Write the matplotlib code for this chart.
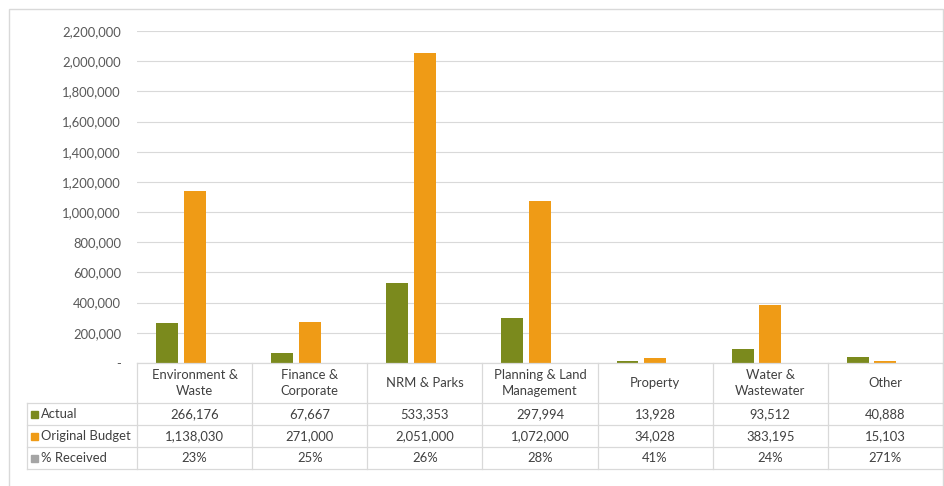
import matplotlib.pyplot as plt
from matplotlib.patches import Rectangle
from matplotlib.lines import Line2D

plt.rcParams['font.family'] = ['Lato', 'DejaVu Sans']

categories = ["Environment &\nWaste", "Finance &\nCorporate", "NRM & Parks",
              "Planning & Land\nManagement", "Property", "Water &\nWastewater", "Other"]
actual = [266176, 67667, 533353, 297994, 13928, 93512, 40888]
budget = [1138030, 271000, 2051000, 1072000, 34028, 383195, 15103]
received = [0.23, 0.25, 0.26, 0.28, 0.41, 0.24, 2.71]
series_names = ["Actual", "Original Budget", "% Received"]
colors = ["#7b8a1d", "#ef9b16", "#a5a5a5"]
yticks = list(range(0, 2200001, 200000))

W, H = 945, 486
fig = plt.figure(figsize=(W / 100, H / 100), dpi=100)
fs = 9.4

def fx(px):
    return px / W

def fy(py):
    return 1 - py / H

# plot area in pixel units
left, right, top, base = 137, 943, 31, 363
ax = fig.add_axes([fx(left), fy(base), fx(right - left), fy(top) - fy(base)])

n = len(categories)
x = list(range(n))
width = 0.19
offsets = [-0.24, 0, 0.24]
for vals, off, c in zip([actual, budget, received], offsets, colors):
    ax.bar([i + off for i in x], vals, width=width, color=c, zorder=3)

ax.set_xlim(-0.5, n - 0.5)
ax.set_ylim(0, 2200000)
ax.set_yticks(yticks)
ax.set_yticklabels(["-" if v == 0 else f"{v:,}" for v in yticks])
ax.tick_params(axis='y', length=0, pad=11.5, labelsize=fs, labelcolor="#595959")
ax.set_xticks([])
ax.grid(axis='y', color="#d9d9d9", linewidth=0.8, zorder=0)
for s in ax.spines.values():
    s.set_visible(False)

line_c = "#d9d9d9"
text_c = "#404040"

# outer chart border
fig.patches.append(Rectangle((fx(9), fy(490)), fx(934), fy(9) - fy(490),
                             transform=fig.transFigure, fill=False,
                             edgecolor="#d9d9d9", linewidth=1))

# data table below the axis
col_w = (right - left) / n
row_tops = [363, 403, 425, 447, 469]
table_left = 27

def hline(y, x0, x1):
    fig.lines.append(Line2D([fx(x0), fx(x1)], [fy(y), fy(y)],
                            transform=fig.transFigure, color=line_c, linewidth=0.9))

def vline(xp, y0, y1):
    fig.lines.append(Line2D([fx(xp), fx(xp)], [fy(y0), fy(y1)],
                            transform=fig.transFigure, color=line_c, linewidth=0.9))

hline(363, left, right)
for y in row_tops[1:]:
    hline(y, table_left, right)
vline(table_left, 403, 469)
for i in range(n + 1):
    vline(left + i * col_w, 363, 469)

for i, cat in enumerate(categories):
    cx = left + (i + 0.5) * col_w
    fig.text(fx(cx), fy(383), cat, ha='center', va='center', fontsize=fs,
             color=text_c, linespacing=1.35)

rows = [
    [f"{v:,}" for v in actual],
    [f"{v:,}" for v in budget],
    [f"{v:.0%}" for v in received],
]
for r, (name, c, vals) in enumerate(zip(series_names, colors, rows)):
    cy = (row_tops[r + 1] + row_tops[r + 2]) / 2
    fig.patches.append(Rectangle((fx(31), fy(cy + 3.5)), fx(7), fy(cy - 3.5) - fy(cy + 3.5),
                                 transform=fig.transFigure, color=c))
    fig.text(fx(41), fy(cy), name, ha='left', va='center', fontsize=fs, color=text_c)
    for i, v in enumerate(vals):
        cx = left + (i + 0.5) * col_w
        fig.text(fx(cx), fy(cy), v, ha='center', va='center', fontsize=fs, color=text_c)

fig.savefig("out.png", dpi=100)
